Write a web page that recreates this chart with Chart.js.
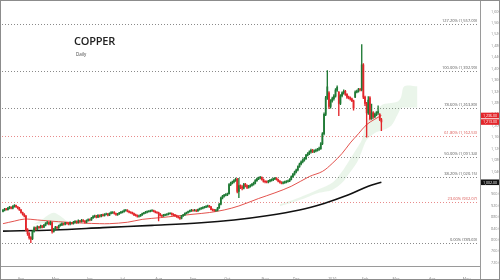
<!DOCTYPE html>
<html><head><meta charset="utf-8">
<script src="https://cdn.jsdelivr.net/npm/chart.js@4.4.1/dist/chart.umd.min.js"></script>
<style>
html,body{margin:0;padding:0;background:#fff;}
#wrap{position:relative;width:500px;height:280px;overflow:hidden;}
canvas{display:block;}
#title{position:absolute;left:74px;top:33px;font-family:"Open Sans",sans-serif;font-weight:600;font-size:11px;color:#222;letter-spacing:-0.2px;}
#sub{position:absolute;left:76px;top:51px;font-family:"Open Sans",sans-serif;font-size:4.5px;color:#444;}
</style></head>
<body><div id="wrap"><canvas id="c" width="500" height="280"></canvas>
<div id="title">COPPER</div><div id="sub">Daily</div></div>
<script>
// ---- DATA ----
const FIRST_DAY = -11; // trading-day index of first candle (Apr 1 2025 = 0)
const opens = [
900,904,909,906,911,915,911,918,921,916,
912,905,896,890,884,835,822,808,804,830,
842,838,846,843,849,845,852,858,861,856,
860,830,838,845,842,850,853,857,855,860,
858,856,860,857,862,865,861,867,864,869,
866,862,868,871,870,877,882,884,880,886,
883,888,885,890,891,887,893,895,897,892,
889,891,895,898,899,903,904,900,897,896,
892,888,886,883,884,888,892,895,897,899,
901,902,903,900,897,896,891,886,884,887,
889,890,892,893,890,888,885,882,879,876,
884,888,893,896,899,902,904,903,904,902,
906,910,911,913,915,917,919,916,907,905,
903,904,912,925,947,953,957,958,962,994,
999,1003,1008,1012,970,990,985,981,995,990,
984,988,991,995,999,1008,1014,1017,1019,1012,
1005,1004,1003,1006,1009,1011,1014,1016,1011,1006,
1002,999,1001,1003,1005,1007,1012,1022,1030,1038,
1045,1057,1066,1074,1080,1085,1097,1102,1108,1114,
1110,1112,1114,1117,1120,1137,1172,1240,1298,1315,
1268,1287,1295,1304,1325,1318,1278,1305,1315,1321,
1310,1300,1298,1294,1287,1300,1318,1321,1327,1326,
1413,1300,1278,1245,1298,1225,1245,1232,1240,1246,1239,1222];
const highs = [
907,911,911,914,918,916,920,924,922,917,
914,907,898,892,886,840,826,812,833,846,
845,849,848,852,850,855,861,865,863,866,
863,841,848,847,852,856,860,859,862,862,
861,863,862,865,868,867,870,869,872,871,
868,870,874,874,879,885,887,886,889,888,
890,891,892,894,893,895,899,899,899,894,
893,897,900,902,906,907,906,902,899,898,
894,891,888,887,890,894,897,900,902,903,
905,906,905,902,899,898,893,888,890,891,
892,895,896,895,892,890,887,884,881,886,
890,895,898,901,905,907,906,907,906,908,
912,914,916,918,920,922,921,918,909,907,
907,914,928,950,956,960,962,964,997,1003,
1006,1011,1017,1016,1016,993,990,998,998,993,
991,994,998,1003,1011,1017,1020,1023,1021,1014,
1008,1007,1009,1012,1014,1017,1019,1018,1013,1008,
1004,1004,1006,1008,1010,1015,1025,1033,1041,1048,
1060,1069,1077,1084,1089,1100,1106,1112,1118,1117,
1116,1118,1121,1125,1141,1176,1245,1303,1393,1320,
1292,1300,1309,1330,1340,1320,1309,1319,1326,1324,
1313,1304,1301,1297,1290,1322,1325,1331,1331,1484,
1418,1304,1282,1302,1302,1276,1250,1244,1250,1270,1243,1226];
const lows = [
898,902,904,904,909,909,909,915,914,909,
903,894,887,881,832,816,803,790,801,827,
834,835,840,841,842,843,849,855,853,853,
824,827,835,839,840,848,850,852,853,855,
853,853,855,855,859,858,859,861,862,863,
859,860,866,867,868,875,879,877,878,880,
881,883,883,888,884,885,891,893,890,886,
886,889,893,895,897,901,898,895,893,890,
885,883,880,880,882,886,890,893,895,897,
898,900,898,895,893,867,883,881,882,885,
886,888,890,887,885,882,879,876,872,874,
882,886,891,894,897,900,900,901,899,900,
904,907,909,911,913,915,914,905,902,900,
900,902,910,923,944,950,954,955,960,990,
996,1000,1005,965,948,980,975,979,986,980,
981,985,988,992,996,1005,1011,1014,1009,1002,
1000,1000,1000,1003,1006,1008,1011,1009,1003,999,
996,996,998,1000,1002,1004,1010,1019,1027,1035,
1042,1054,1063,1070,1076,1082,1094,1099,1104,1106,
1106,1108,1111,1114,1117,1134,1168,1235,1292,1260,
1262,1283,1290,1300,1320,1235,1274,1301,1311,1306,
1296,1294,1290,1284,1255,1298,1315,1318,1322,1322,
1295,1270,1160,1240,1220,1222,1226,1228,1235,1240,1218,1183];
const closes = [
904,908,906,912,915,911,918,921,916,912,
905,896,890,884,835,822,808,803,830,842,
838,846,843,849,845,852,858,861,856,862,
830,838,845,842,850,853,857,855,860,858,
856,860,857,862,865,861,867,864,869,866,
862,868,871,870,877,882,884,880,886,883,
888,885,890,891,887,893,896,896,892,889,
891,895,898,899,903,904,900,897,896,892,
888,886,883,884,888,892,895,897,899,901,
902,903,900,897,896,891,886,884,887,889,
890,892,893,890,888,885,882,879,876,884,
888,893,896,899,902,904,903,904,902,906,
910,911,913,915,917,919,916,907,905,903,
904,912,925,947,953,957,958,961,994,999,
1003,1008,1012,970,990,985,981,995,990,984,
988,991,995,999,1008,1014,1017,1019,1012,1005,
1004,1003,1006,1009,1011,1014,1016,1011,1006,1002,
999,1001,1003,1005,1007,1012,1022,1030,1038,1045,
1057,1066,1074,1080,1085,1097,1102,1108,1114,1110,
1112,1114,1117,1120,1137,1172,1240,1298,1336,1268,
1287,1295,1304,1325,1335,1278,1305,1315,1321,1310,
1300,1298,1294,1287,1262,1318,1321,1327,1326,1413,
1300,1278,1245,1290,1225,1245,1232,1240,1246,1250,1222,1213];

// 50-day moving average (red), read at sample days
const redMaDays   = [-11,-4,2,10,18,28,38,48,54,65,74,85,95,105,115,124,133,145,155,165,176,184,190,196,201,206,211,216,220];
const redMaValues = [857,866,873,870,866,862,859,857,857,862,872,878,884,890,896,905,919,945,965,988,1022,1040,1068,1103,1140,1172,1204,1223,1236];
// 200-day moving average (black)
const blackMaDays   = [-11,20,50,80,110,130,150,170,185,200,212,220];
const blackMaValues = [831,835,843,851,860,870,885,905,928,958,988,1002];
// Ichimoku cloud (span A / span B), two visible parts
const cloud1Days   = [8,12,16,20,24,28,31];
const cloud1Top    = [857,868,885,895,884,866,858];
const cloud1Bottom = [857,858,858,858,858,858,858];
const cloud2Days   = [158,166,174,182,190,196,200,205,208,211,216,221,226,230,232,234,242];
const cloud2Top    = [925,940,958,978,1000,1040,1075,1120,1150,1215,1250,1275,1280,1285,1300,1338,1338];
const cloud2Bottom = [918,932,948,965,975,1000,1030,1070,1110,1150,1175,1185,1200,1240,1262,1264,1264];

// Fibonacci retracement levels
const fibNames  = ['0.00%','23.60%','38.20%','50.00%','61.80%','78.60%','100.00%','127.20%'];
const fibLevels = [789.69,932.07,1020.15,1091.34,1162.53,1263.89,1392.99,1557.09];
const fibRed    = [false,true,false,false,true,false,false,false];

// axis ticks
const monthTickDays   = [0,21,42,62,84,105,126,149,168,190,210,229,251,272];
const monthTickLabels = ['Apr','May','Jun','Jul','Aug','Sep','Oct','Nov','Dec','2026','Feb','Mar','Apr','May'];
const priceTicks = [720,760,800,840,880,920,960,1000,1040,1080,1120,1160,1200,1240,1280,1320,1360,1400,1440,1480,1520,1560,1600];

// ---- BUILD ----
const UP='#1f7a35', DOWN='#e3262b';
const fmt = v => v.toLocaleString('en-US',{minimumFractionDigits:2,maximumFractionDigits:2});
const candleDays = closes.map((_,i)=>FIRST_DAY+i);
const colors = closes.map((c,i)=> c>=opens[i]?UP:DOWN);
const bodies = closes.map((c,i)=>({x:candleDays[i], y:[opens[i], c===opens[i]? c+0.8 : c]}));
const wicks  = closes.map((c,i)=>({x:candleDays[i], y:[lows[i], highs[i]]}));
const pts = (d,v)=>d.map((x,i)=>({x, y:v[i]}));

const overlay = {
  id:'overlay',
  beforeDatasetsDraw(chart){
    const {ctx, chartArea:a, scales:{y}} = chart;
    ctx.save();
    ctx.lineWidth=1;
    fibLevels.forEach((lv,i)=>{
      const py = Math.round(y.getPixelForValue(lv))+0.5;
      ctx.strokeStyle = fibRed[i] ? '#e88b8b' : '#8a8a8a';
      ctx.setLineDash([1,2]);
      ctx.beginPath(); ctx.moveTo(a.left,py); ctx.lineTo(a.right-2,py); ctx.stroke();
      ctx.setLineDash([]);
      ctx.fillStyle = fibRed[i] ? '#d9534f' : '#555';
      ctx.font = '4px "Open Sans", sans-serif';
      ctx.textAlign='right'; ctx.textBaseline='bottom';
      ctx.fillText(fibNames[i]+' ('+fmt(lv)+')', a.right-3, py-1.5);
    });
    ctx.restore();
  },
  afterDraw(chart){
    const {ctx, chartArea:a, scales:{y}} = chart;
    ctx.save();
    ctx.strokeStyle='#9a9a9a'; ctx.lineWidth=1;
    ctx.beginPath(); ctx.moveTo(0,a.bottom+0.5); ctx.lineTo(a.right,a.bottom+0.5); ctx.stroke();
    ctx.beginPath(); ctx.moveTo(a.right+0.5,0); ctx.lineTo(a.right+0.5,280); ctx.stroke();
    const flags = [
      {v: blackMaValues[blackMaValues.length-1], c:'#111'},
      {v: redMaValues[redMaValues.length-1], c:'#e3262b'},
      {v: closes[closes.length-1], c:'#e3262b'}
    ];
    ctx.font='3.6px "Open Sans", sans-serif'; ctx.textAlign='center'; ctx.textBaseline='middle';
    flags.forEach(f=>{
      const py = y.getPixelForValue(f.v);
      ctx.fillStyle=f.c; ctx.fillRect(a.right+1, py-2.8, 18, 5.6);
      ctx.fillStyle='#fff'; ctx.fillText(fmt(f.v), a.right+10, py+0.2);
    });
    ctx.strokeStyle='#8c8c8c';
    ctx.strokeRect(0.5,0.5,499,279);
    ctx.restore();
  }
};

new Chart(document.getElementById('c'), {
  data:{ datasets:[
    {type:'bar', data:wicks, backgroundColor:colors, barThickness:0.7, grouped:false, order:1},
    {type:'bar', data:bodies, backgroundColor:colors, barThickness:1.1, grouped:false, order:0},
    {type:'line', data:pts(redMaDays,redMaValues), borderColor:'#e0403a', borderWidth:0.9, pointRadius:0, tension:0.35, order:2},
    {type:'line', data:pts(blackMaDays,blackMaValues), borderColor:'#111', borderWidth:1.6, pointRadius:0, tension:0.35, order:2},
    {type:'line', data:pts(cloud1Days,cloud1Top), borderWidth:0, pointRadius:0, tension:0.3, fill:'+1', backgroundColor:'rgba(140,200,140,0.18)', order:5},
    {type:'line', data:pts(cloud1Days,cloud1Bottom), borderWidth:0, pointRadius:0, tension:0.3, order:5},
    {type:'line', data:pts(cloud2Days,cloud2Top), borderWidth:0, pointRadius:0, tension:0.3, fill:'+1', backgroundColor:'rgba(140,200,140,0.18)', order:5},
    {type:'line', data:pts(cloud2Days,cloud2Bottom), borderWidth:0, pointRadius:0, tension:0.3, order:5}
  ]},
  options:{
    responsive:false, animation:false, devicePixelRatio:1,
    layout:{padding:{left:2,top:1,right:0,bottom:0}},
    plugins:{legend:{display:false}, tooltip:{enabled:false}},
    scales:{
      x:{type:'linear', min:-11.6, max:280.2, offset:false,
         grid:{display:false}, border:{display:false},
         afterBuildTicks:s=>{s.ticks = monthTickDays.map(v=>({value:v}));},
         afterFit:s=>{s.height=14;},
         ticks:{autoSkip:false, maxRotation:0, padding:3, color:'#8a8a8a', font:{size:3.8, family:'"Open Sans", sans-serif'},
                callback:v=>{const k=monthTickDays.indexOf(v); return k>=0?monthTickLabels[k]:'';}}},
      y:{type:'linear', position:'right', min:708.7, max:1622,
         grid:{display:false}, border:{display:false},
         afterBuildTicks:s=>{s.ticks = priceTicks.map(v=>({value:v}));},
         afterFit:s=>{s.width=20;},
         ticks:{padding:3, color:'#8a8a8a', font:{size:3.8, family:'"Open Sans", sans-serif'}, callback:v=>fmt(v)}}
    }
  },
  plugins:[overlay]
});
</script></body></html>
